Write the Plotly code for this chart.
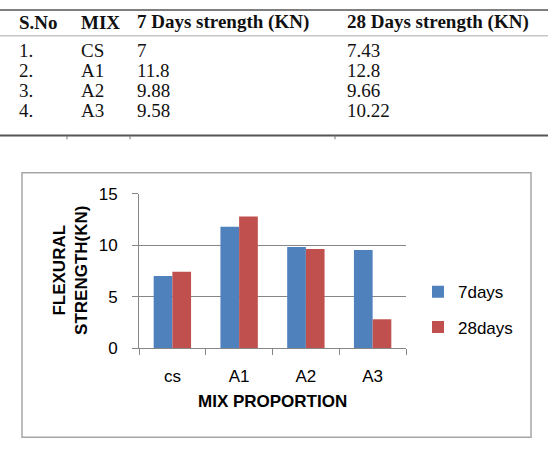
import plotly.graph_objects as go

# ---- data ----
mixes = ["cs", "A1", "A2", "A3"]
days7 = [7.0, 11.8, 9.83, 9.55]
days28 = [7.43, 12.8, 9.63, 2.8]
series_names = ["7days", "28days"]
yticks = [0, 5, 10, 15]

table_header = ["S.No", "MIX", "7 Days strength (KN)", "28 Days strength (KN)"]
table_sno = ["1.", "2.", "3.", "4."]
table_mix = ["CS", "A1", "A2", "A3"]
table_7 = ["7", "11.8", "9.88", "9.58"]
table_28 = ["7.43", "12.8", "9.66", "10.22"]

W, H = 548, 450
def px(x):
    return x / W
def py(y):
    return 1 - y / H

BLUE = "#4F81BD"
RED = "#C0504D"
AX = "#868686"
SANS = "Liberation Sans, Arial, sans-serif"
SERIF = "Liberation Serif, Times New Roman, serif"

fig = go.Figure()
fig.add_trace(go.Bar(x=mixes, y=days7, name=series_names[0], marker_color=BLUE,
                     marker_line_width=0, legendgroup="a"))
fig.add_trace(go.Bar(x=mixes, y=days28, name=series_names[1], marker_color=RED,
                     marker_line_width=0, legendgroup="b"))

shapes = []
annotations = []

# table lines
shapes.append(dict(type="line", xref="paper", yref="paper", x0=0, x1=1,
                   y0=py(1), y1=py(1), line=dict(color="#555555", width=1.5)))
shapes.append(dict(type="line", xref="paper", yref="paper", x0=0, x1=1,
                   y0=py(28), y1=py(28), line=dict(color="#aaaaaa", width=1)))
shapes.append(dict(type="line", xref="paper", yref="paper", x0=0, x1=1,
                   y0=py(132), y1=py(132), line=dict(color="#555555", width=2)))
for sx in [67, 130, 335]:
    shapes.append(dict(type="line", xref="paper", yref="paper", x0=px(sx), x1=px(sx),
                       y0=py(132), y1=py(136), line=dict(color="#777777", width=1)))

col_x = [17, 79, 135, 345]
row_y = [43, 64, 85, 106]
for cx, t in zip(col_x, table_header):
    annotations.append(dict(xref="paper", yref="paper", x=px(cx), y=py(14),
                            xanchor="left", yanchor="middle", showarrow=False,
                            text="<b>" + t + "</b>",
                            font=dict(family=SERIF, size=19, color="#111111")))
for i in range(4):
    vals = [table_sno[i], table_mix[i], table_7[i], table_28[i]]
    for cx, t in zip(col_x, vals):
        annotations.append(dict(xref="paper", yref="paper", x=px(cx), y=py(row_y[i]),
                                xanchor="left", yanchor="middle", showarrow=False,
                                text=t, font=dict(family=SERIF, size=19, color="#111111")))

# chart border
shapes.append(dict(type="rect", xref="paper", yref="paper", x0=px(22), x1=px(531),
                   y0=py(447), y1=py(171), line=dict(color="#A6A6A6", width=1.5)))

# axis titles
annotations.append(dict(xref="paper", yref="paper", x=px(272.5), y=py(410),
                        xanchor="center", yanchor="middle", showarrow=False,
                        text="<b>MIX PROPORTION</b>",
                        font=dict(family=SANS, size=17, color="#000000")))
annotations.append(dict(xref="paper", yref="paper", x=px(71), y=py(273.5),
                        xanchor="center", yanchor="middle", showarrow=False,
                        textangle=-90,
                        text="<b>FLEXURAL<br>STRENGTH(KN)</b>",
                        font=dict(family=SANS, size=17, color="#000000")))

fig.update_layout(
    width=W, height=H,
    margin=dict(l=0, r=0, t=0, b=0),
    paper_bgcolor="white", plot_bgcolor="white",
    barmode="group", bargap=0.44, bargroupgap=0,
    shapes=shapes, annotations=annotations,
    font=dict(family=SANS, size=17, color="#000000"),
    legend=dict(x=px(418), y=py(277), xanchor="left", yanchor="top",
                font=dict(family=SANS, size=17), itemwidth=30,
                tracegroupgap=10, bgcolor="rgba(0,0,0,0)"),
    xaxis=dict(domain=[px(139), px(406)], showline=True, linecolor=AX, linewidth=1,
               ticks="outside", tickson="boundaries", ticklen=6, tickcolor=AX,
               showgrid=False, ticklabelstandoff=13, anchor="y",
               tickfont=dict(family=SANS, size=17)),
    yaxis=dict(domain=[py(354), py(193)], range=[0, 15], tickvals=yticks,
               showline=True, linecolor=AX, linewidth=1, ticks="outside",
               ticklen=6, tickcolor=AX, showgrid=True, gridcolor=AX, gridwidth=1,
               zeroline=False, ticklabelstandoff=11, anchor="x",
               tickfont=dict(family=SANS, size=17)),
)

fig.write_html("out.html")
